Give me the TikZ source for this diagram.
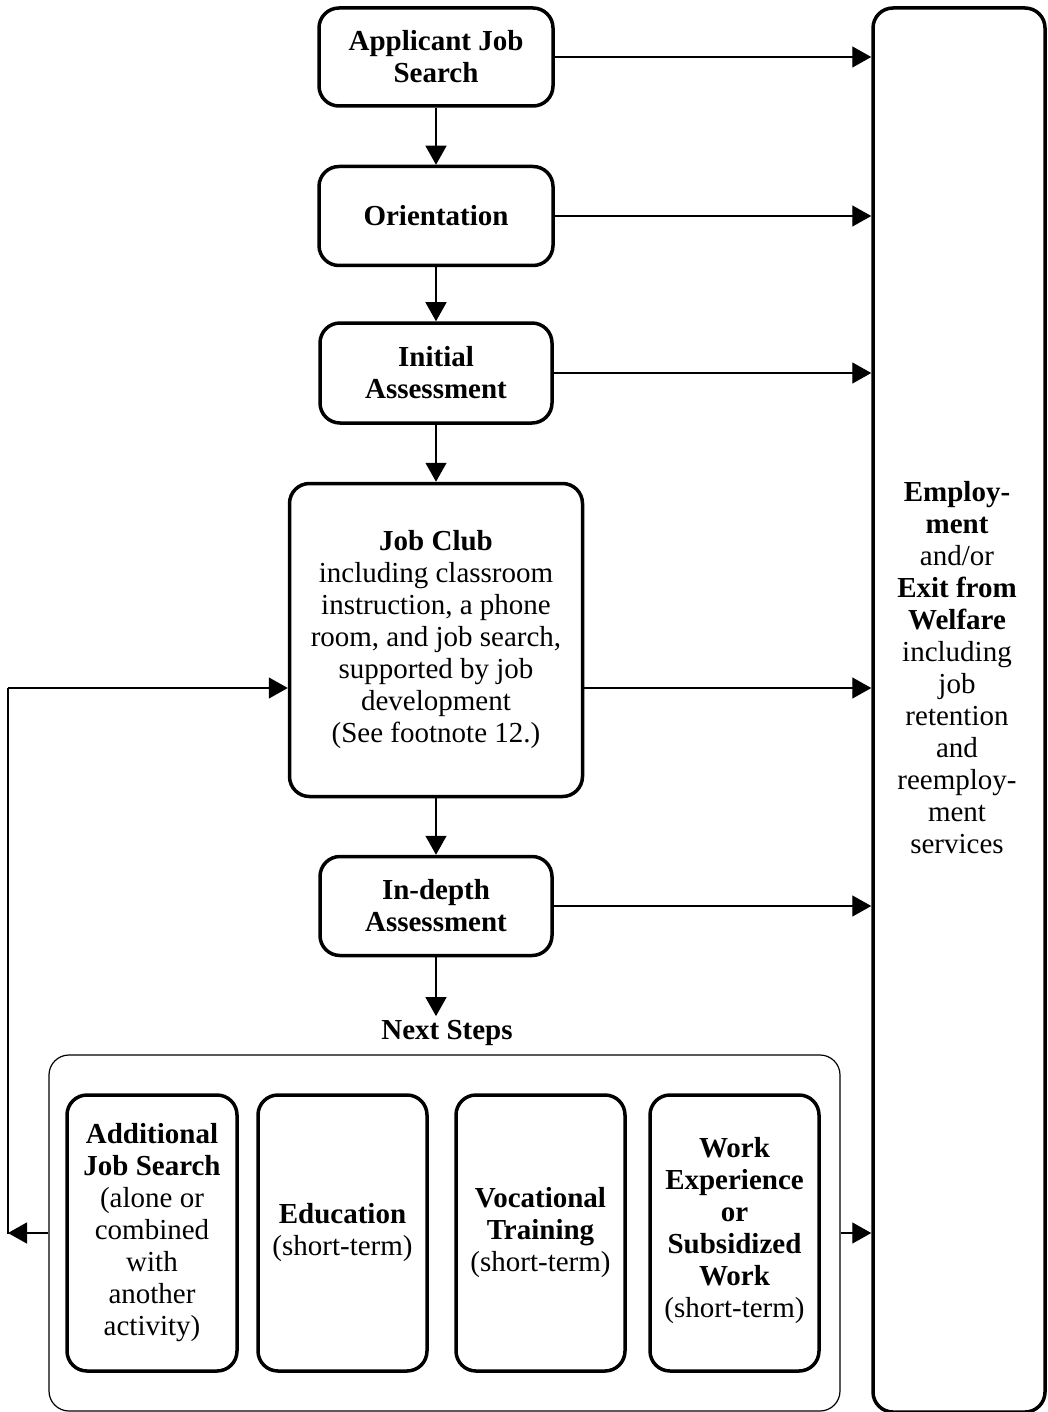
\documentclass[tikz,border=0pt]{standalone}
\usepackage{fontspec}
\setmainfont{Liberation Serif}
\usetikzlibrary{positioning,arrows.meta}

\begin{document}
\begin{tikzpicture}[
    x=1pt,
    y=-1pt,
    font=\fontsize{29}{32}\selectfont,
    >={Triangle[length=19pt,width=21pt]},
    stepbox/.style={draw, line width=3.5pt, rounded corners=20pt, align=center, inner sep=0pt},
    stepsframe/.style={draw, line width=1.2pt, rounded corners=20pt, inner sep=0pt},
    flow/.style={line width=1.4pt, ->},
    plainline/.style={line width=1.4pt},
    boxtext/.style={align=center, inner sep=0pt}
]

\useasboundingbox (0,0) rectangle (1048,1412);

% Main column of steps
\node[stepbox, minimum width=234, minimum height=98] (search) at (436,57)
    {\textbf{Applicant Job}\\\textbf{Search}};
\node[stepbox, minimum width=234, minimum height=99] (orient) at (436,216)
    {\textbf{Orientation}};
\node[stepbox, minimum width=232, minimum height=100] (initial) at (436,373)
    {\textbf{Initial}\\\textbf{Assessment}};
\node[stepbox, minimum width=293, minimum height=313] (jobclub) at (436,640)
    {\textbf{Job Club}\\including classroom\\instruction, a phone\\room, and job search,\\supported by job\\development\\(See footnote 12.)};
\node[stepbox, minimum width=232, minimum height=99] (indepth) at (436,906)
    {\textbf{In-depth}\\\textbf{Assessment}};
\node[inner sep=4pt] (next) at (447,1033) {\textbf{Next Steps}};

% Next steps frame and its activities
\node[stepsframe, minimum width=791, minimum height=356] (steps) at (444.5,1233) {};
\node[stepbox, minimum width=170, minimum height=276] (addsearch) at (152,1233)
    {\textbf{Additional}\\\textbf{Job Search}\\(alone or\\combined\\with\\another\\activity)};
\node[stepbox, minimum width=169, minimum height=276] (educ) at (342.5,1233)
    {\textbf{Education}\\(short-term)};
\node[stepbox, minimum width=169, minimum height=276] (vocat) at (540.5,1233)
    {\textbf{Vocational}\\\textbf{Training}\\(short-term)};
\node[stepbox, minimum width=169, minimum height=276] (workexp) at (734.5,1233)
    {\textbf{Work}\\\textbf{Experience}\\\textbf{or}\\\textbf{Subsidized}\\\textbf{Work}\\(short-term)\\[-20pt]};

% Outcome column
\node[stepbox, minimum width=172, minimum height=1404] (employ) at (959,710) {};
\node[boxtext] (employtext) at (957,668)
    {\textbf{Employ-}\\\textbf{ment}\\and/or\\\textbf{Exit from}\\\textbf{Welfare}\\including\\job\\retention\\and\\reemploy-\\ment\\services};

% Downward flow
\draw[flow] (search) -- (orient);
\draw[flow] (orient) -- (initial);
\draw[flow] (initial) -- (jobclub);
\draw[flow] (jobclub) -- (indepth);
\draw[flow] (indepth.south) -- (indepth.south |- next.north);

% Exits to employment
\coordinate (fbtop) at (8,688);
\coordinate (fbbot) at (8,1234);
\draw[flow] (search.east) -- (search.east -| employ.west);
\draw[flow] (orient.east) -- (orient.east -| employ.west);
\draw[flow] (initial.east) -- (initial.east -| employ.west);
\draw[flow] (jobclub.east |- fbtop) -- (fbtop -| employ.west);
\draw[flow] (indepth.east) -- (indepth.east -| employ.west);
\draw[flow] (steps.east) -- (steps.east -| employ.west);

% Loop back to job club
\draw[flow] (steps.west) -- (steps.west -| fbbot);
\draw[plainline] (fbbot) -- (fbtop);
\draw[flow] (fbtop) -- (fbtop -| jobclub.west);

\end{tikzpicture}
\end{document}
